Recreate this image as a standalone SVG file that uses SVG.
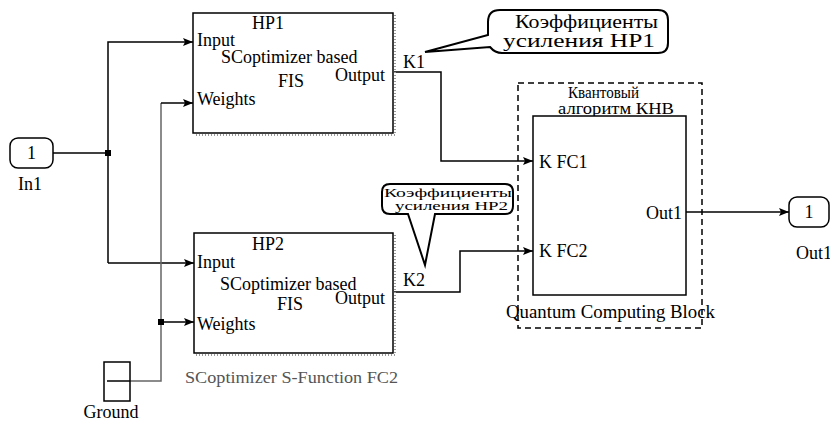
<svg xmlns="http://www.w3.org/2000/svg" width="830" height="424" viewBox="0 0 830 424">
<defs>
<marker id="arr" viewBox="0 0 10 8" refX="10" refY="4" markerWidth="10" markerHeight="8" markerUnits="userSpaceOnUse" orient="auto">
<path d="M0,0 L10,4 L0,8 L2,4 Z" fill="#000"/>
</marker>
</defs>
<style>
.t19{font-size:19px}
.t18{font-size:18px}
.t17{font-size:17px}
.t16{font-size:16px}
.t12{font-size:12px}
.blk{fill:#fff;stroke:#000;stroke-width:1.5}
.shadow{fill:none;stroke:#999;stroke-width:2;stroke-dasharray:1,2}
.wire{fill:none;stroke:#000;stroke-width:1.5}
.gwire{fill:none;stroke:#666;stroke-width:1.5}
.dot{fill:#000}
.port{fill:#fff;stroke:#000;stroke-width:1.5}
.callout{fill:#fff;stroke:#000;stroke-width:2}
</style>
<rect width="830" height="424" fill="#fff"/>

<g id="connectors">
<path class="wire" d="M53,153 L108,153"/>
<path class="wire" d="M108,263 L108,42 L193,42" marker-end="url(#arr)"/>
<path class="wire" d="M108,263 L194,263" marker-end="url(#arr)"/>
<path class="gwire" d="M130,381 L161,381 L161,103"/>
<path class="wire" d="M161,103 L193,103" marker-end="url(#arr)"/>
<path class="wire" d="M161,322 L194,322" marker-end="url(#arr)"/>
<path class="wire" d="M394,72 L441,72 L441,161 L533,161" marker-end="url(#arr)"/>
<path class="wire" d="M394,292 L460,292 L460,251 L533,251" marker-end="url(#arr)"/>
<path class="wire" d="M686,212 L789,212" marker-end="url(#arr)"/>
<rect class="dot" x="105" y="150" width="6" height="6"/>
<rect class="dot" x="158" y="319" width="6" height="6"/>
</g>

<g font-family="'Liberation Serif', 'Times New Roman', Tinos, 'DejaVu Serif', serif" fill="#000">
<g id="In1">
<rect class="port" x="10" y="138" width="43" height="30" rx="8"/>
<text class="t18" x="31.5" y="159" text-anchor="middle">1</text>
<text class="t18" x="18" y="190">In1</text>
</g>

<g id="Ground">
<rect class="blk" x="104" y="362" width="26" height="39" stroke-width="1.2"/>
<path class="wire" d="M107,381 L130,381" stroke-width="1.2"/>
<text class="t18" x="111" y="418" text-anchor="middle">Ground</text>
</g>

<g id="HP1">
<path class="shadow" d="M395,15 L395,135 L195,135"/>
<rect class="blk" x="193" y="13" width="200" height="120"/>
<text class="t18" x="268" y="29" text-anchor="middle">HP1</text>
<text class="t18" x="197" y="46">Input</text>
<text class="t18" x="221" y="63">SCoptimizer based</text>
<text class="t18" x="278" y="87">FIS</text>
<text class="t18" x="385" y="81" text-anchor="end">Output</text>
<text class="t18" x="197" y="105">Weights</text>
</g>

<g id="HP2">
<path class="shadow" d="M395,235 L395,355 L196,355"/>
<rect class="blk" x="194" y="233" width="199" height="120"/>
<text class="t18" x="268" y="250" text-anchor="middle">HP2</text>
<text class="t18" x="197" y="268">Input</text>
<text class="t18" x="220" y="290">SCoptimizer based</text>
<text class="t18" x="277" y="310">FIS</text>
<text class="t18" x="385" y="304" text-anchor="end">Output</text>
<text class="t18" x="197" y="330">Weights</text>
<text class="t17" x="185" y="383" fill="#555" textLength="213" lengthAdjust="spacingAndGlyphs">SCoptimizer S-Function FC2</text>
</g>

<g id="K1label"><text class="t18" x="403" y="68">K1</text></g>
<g id="K2label"><text class="t18" x="403" y="286">K2</text></g>

<g id="Callout1">
<path class="callout" d="M425,52 L488,35 L488,22 Q488,10 500,10 L658,10 Q668,10 668,20 L668,43 Q668,53 658,53 L502,53 Q495,53 490,47 Z"/>
<text class="t19" x="515" y="28" textLength="143" lengthAdjust="spacingAndGlyphs">Коэффициенты</text>
<text class="t19" x="503" y="47" textLength="152" lengthAdjust="spacingAndGlyphs">усиления HP1</text>
</g>

<g id="Callout2">
<path class="callout" d="M408,214 L425,265 L435,214 L505,214 Q513,214 513,206 L513,192 Q513,184 505,184 L390,184 Q382,184 382,192 L382,206 Q382,214 390,214 Z"/>
<text class="t12" x="384" y="197" textLength="128" lengthAdjust="spacingAndGlyphs">Коэффициенты</text>
<text class="t12" x="395" y="210" textLength="113" lengthAdjust="spacingAndGlyphs">усиления HP2</text>
</g>

<g id="Quantum">
<rect x="518" y="83" width="184" height="245" fill="none" stroke="#000" stroke-width="1.5" stroke-dasharray="6,4"/>
<text class="t16" x="568" y="98" textLength="71" lengthAdjust="spacingAndGlyphs">Квантовый</text>
<text class="t16" x="558" y="114" textLength="116" lengthAdjust="spacingAndGlyphs">алгоритм КНВ</text>
<rect class="blk" x="533" y="116" width="153" height="179"/>
<text class="t18" x="539" y="168">K  FC1</text>
<text class="t18" x="539" y="257">K  FC2</text>
<text class="t18" x="682" y="219" text-anchor="end">Out1</text>
<text class="t18" x="506" y="318" textLength="209" lengthAdjust="spacingAndGlyphs">Quantum Computing Block</text>
</g>

<g id="Out1">
<rect class="port" x="789" y="197" width="40" height="30" rx="8"/>
<text class="t18" x="809" y="218" text-anchor="middle">1</text>
<text class="t18" x="796" y="259">Out1</text>
</g>
</g>
</svg>
